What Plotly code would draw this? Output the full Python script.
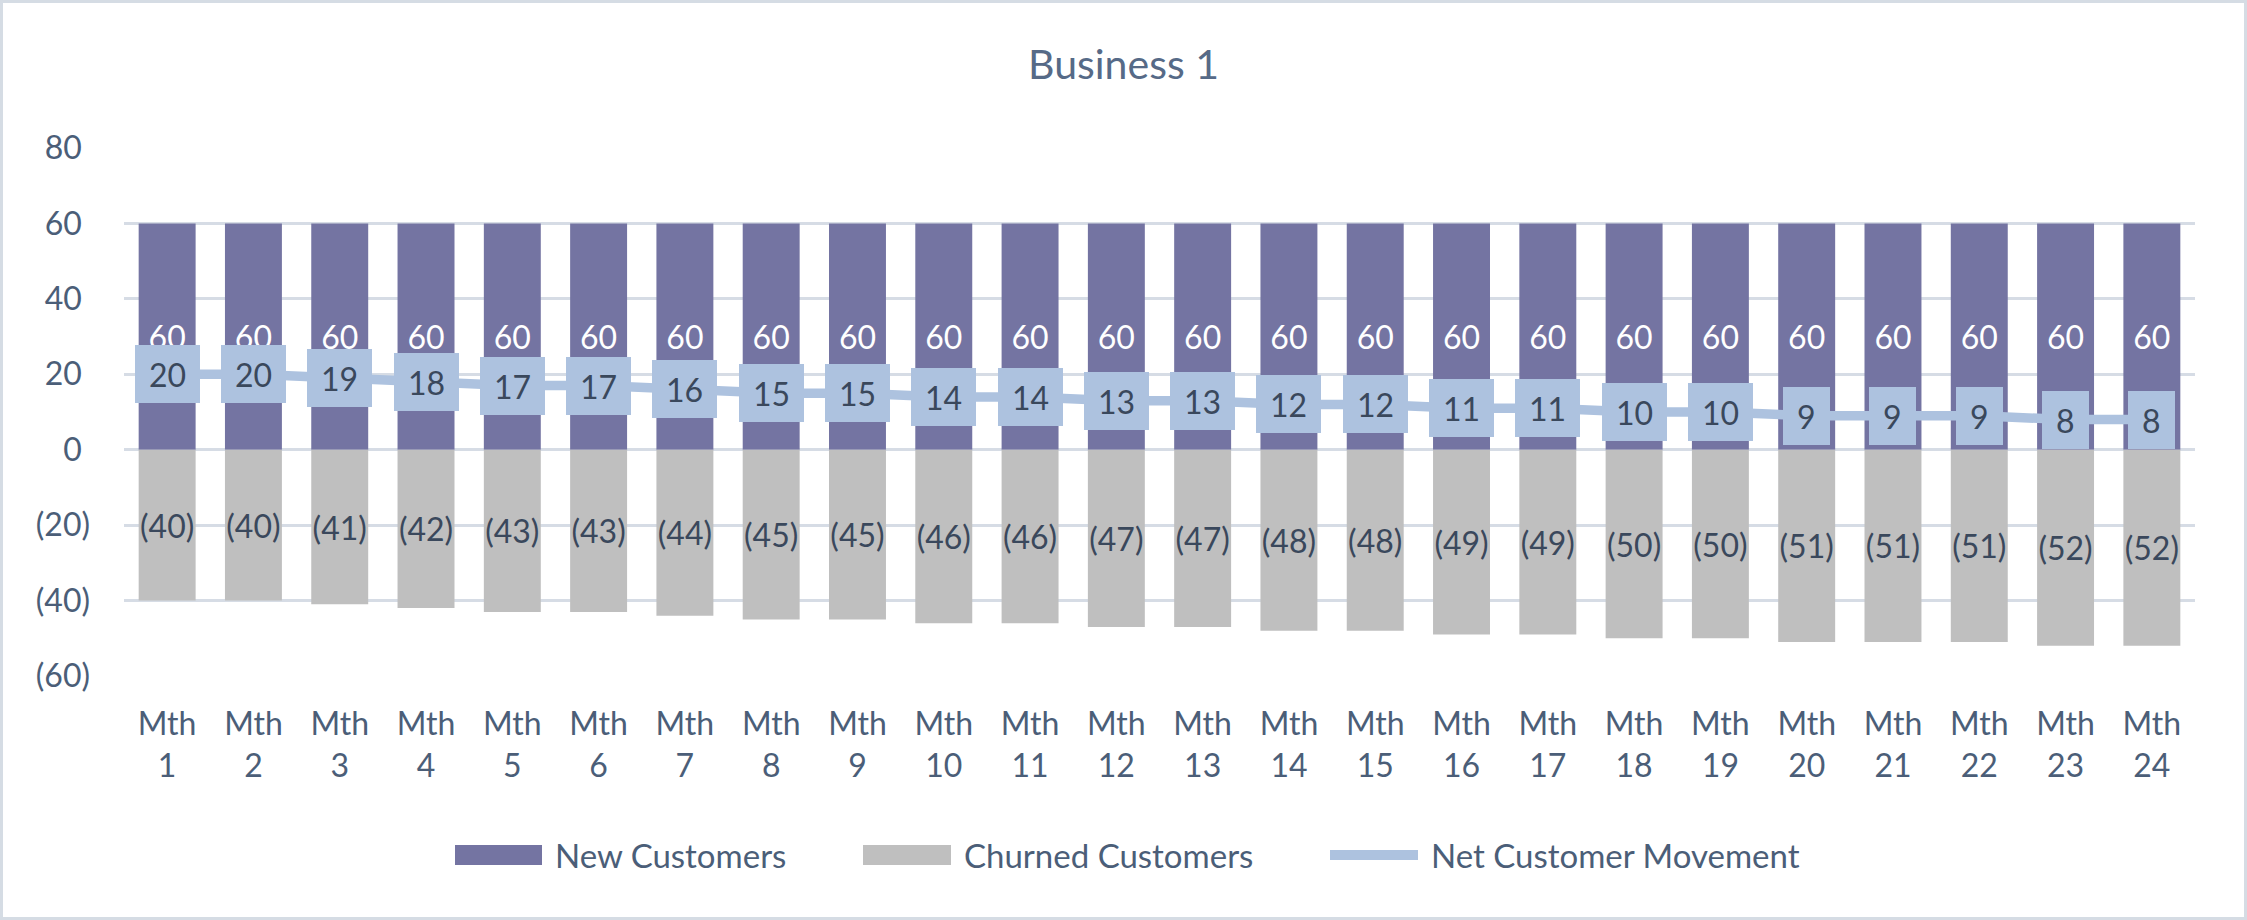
import plotly.graph_objects as go

# ---------------- data ----------------
title_text = "Business 1"
categories = ["Mth 1", "Mth 2", "Mth 3", "Mth 4", "Mth 5", "Mth 6", "Mth 7", "Mth 8",
              "Mth 9", "Mth 10", "Mth 11", "Mth 12", "Mth 13", "Mth 14", "Mth 15", "Mth 16",
              "Mth 17", "Mth 18", "Mth 19", "Mth 20", "Mth 21", "Mth 22", "Mth 23", "Mth 24"]
new_customers = [60, 60, 60, 60, 60, 60, 60, 60, 60, 60, 60, 60,
                 60, 60, 60, 60, 60, 60, 60, 60, 60, 60, 60, 60]
churned_customers = [-40, -40, -41, -42, -43, -43, -44, -45, -45, -46, -46, -47,
                     -47, -48, -48, -49, -49, -50, -50, -51, -51, -51, -52, -52]
net_movement = [20, 20, 19, 18, 17, 17, 16, 15, 15, 14, 14, 13,
                13, 12, 12, 11, 11, 10, 10, 9, 9, 9, 8, 8]
series_names = ["New Customers", "Churned Customers", "Net Customer Movement"]
y_tick_values = [-60, -40, -20, 0, 20, 40, 60, 80]
y_tick_labels = ["(60)", "(40)", "(20)", "0\u00a0", "20\u00a0", "40\u00a0", "60\u00a0", "80\u00a0"]

# ---------------- style ----------------
W, H = 2247, 920
ML, MR, MT, MB = 124, 52, 148, 244
PW = W - ML - MR
PH = H - MT - MB

PURPLE = "#7474A2"
GREY = "#BFBFBF"
LIGHTBLUE = "#ADC2DF"
GRID = "#D6DCE5"
AXIS_TXT = "#4B5E78"
LABEL_TXT = "#3A485C"
TITLE_TXT = "#566A87"
FONT = "Lato"


def paper_x(px):
    return (px - ML) / PW


def paper_y(py):
    return (H - MB - py) / PH


def fmt_paren(v):
    return f"({abs(v):.0f})" if v < 0 else f"{v:.0f}"


x_tick_labels = [c.replace(" ", "<br>") for c in categories]

fig = go.Figure()

fig.add_trace(go.Bar(
    x=categories, y=new_customers, name=series_names[0],
    marker=dict(color=PURPLE, line=dict(width=0)),
    text=[fmt_paren(v) for v in new_customers],
    textposition="inside", insidetextanchor="middle", textangle=0,
    constraintext="none",
    textfont=dict(family=FONT, size=32, color="white"),
    showlegend=False,
))
fig.add_trace(go.Bar(
    x=categories, y=churned_customers, name=series_names[1],
    marker=dict(color=GREY, line=dict(width=0)),
    text=[fmt_paren(v) for v in churned_customers],
    textposition="inside", insidetextanchor="middle", textangle=0,
    constraintext="none",
    textfont=dict(family=FONT, size=32, color=LABEL_TXT),
    showlegend=False,
))
fig.add_trace(go.Scatter(
    x=categories, y=net_movement, name=series_names[2], mode="lines",
    line=dict(color=LIGHTBLUE, width=9.5),
    showlegend=False,
))

annotations = []
# boxed data labels of the net line
for c, v in zip(categories, net_movement):
    t = fmt_paren(v)
    annotations.append(dict(
        x=c, y=v, xref="x", yref="y", text=t, showarrow=False,
        font=dict(family=FONT, size=32, color=LABEL_TXT),
        bgcolor=LIGHTBLUE, borderpad=0, borderwidth=0,
        width=18.5 * len(t) + 28, height=58,
        xanchor="center", yanchor="middle", align="center", valign="middle",
    ))

# custom legend (Excel style long swatches)
leg_cy = 855
shapes = [
    dict(type="rect", xref="paper", yref="paper",
         x0=paper_x(455), x1=paper_x(542), y0=paper_y(leg_cy + 10), y1=paper_y(leg_cy - 10),
         fillcolor=PURPLE, line=dict(width=0)),
    dict(type="rect", xref="paper", yref="paper",
         x0=paper_x(863), x1=paper_x(951), y0=paper_y(leg_cy + 10), y1=paper_y(leg_cy - 10),
         fillcolor=GREY, line=dict(width=0)),
    dict(type="line", xref="paper", yref="paper",
         x0=paper_x(1330), x1=paper_x(1418), y0=paper_y(leg_cy), y1=paper_y(leg_cy),
         line=dict(color=LIGHTBLUE, width=10)),
    # chart border
    dict(type="rect", xref="paper", yref="paper",
         x0=paper_x(1.5), x1=paper_x(W - 1.5), y0=paper_y(H - 1.5), y1=paper_y(1.5),
         line=dict(color="#D5DCE4", width=3), fillcolor="rgba(0,0,0,0)", layer="above"),
]
for name, px in zip(series_names, [553, 962, 1429]):
    annotations.append(dict(
        x=paper_x(px), y=paper_y(leg_cy), xref="paper", yref="paper",
        text=name, showarrow=False, xanchor="left", yanchor="middle",
        font=dict(family=FONT, size=33, color=AXIS_TXT),
    ))

fig.update_layout(
    width=W, height=H,
    margin=dict(l=ML, r=MR, t=MT, b=MB, pad=0),
    paper_bgcolor="white", plot_bgcolor="white",
    barmode="relative", bargap=0.34,
    font=dict(family=FONT, color=AXIS_TXT),
    title=dict(text=title_text, x=0.5, xref="container", xanchor="center",
               y=1 - 65 / H, yref="container", yanchor="middle",
               font=dict(family=FONT, size=41, color=TITLE_TXT)),
    xaxis=dict(type="category", tickmode="array", tickvals=categories, ticktext=x_tick_labels,
               showgrid=False, showline=False, zeroline=False, ticks="",
               tickfont=dict(family=FONT, size=32, color=AXIS_TXT),
               ticklabelstandoff=26),
    yaxis=dict(range=[-60, 80], tickmode="array", tickvals=y_tick_values, ticktext=y_tick_labels,
               showgrid=True, gridcolor=GRID, gridwidth=2.7, zeroline=False, showline=False,
               ticks="", tickfont=dict(family=FONT, size=32, color=AXIS_TXT),
               ticklabelstandoff=33),
    annotations=annotations,
    shapes=shapes,
    showlegend=False,
)

fig.write_html("out.html",
               config={"displayModeBar": False},
               post_script="document.body.style.margin='0';document.body.style.overflow='hidden';")
